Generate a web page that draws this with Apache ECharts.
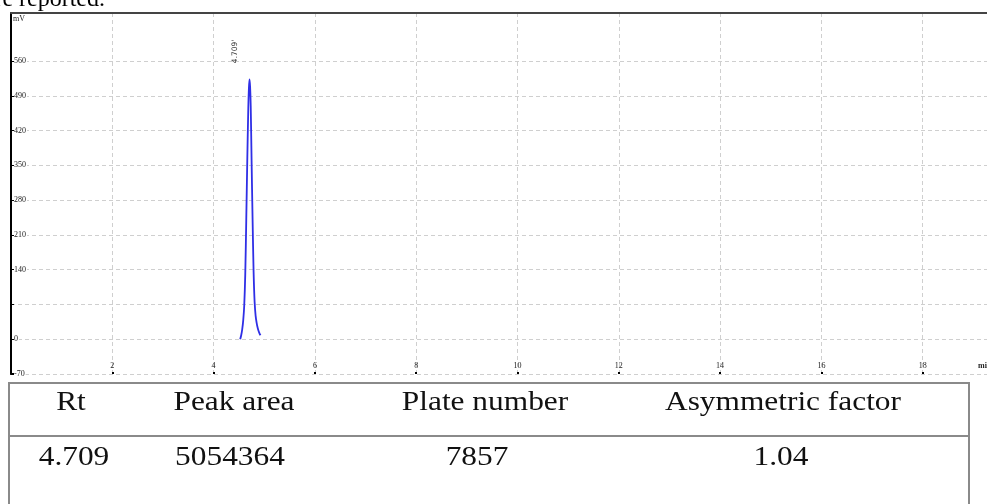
<!DOCTYPE html>
<html>
<head>
<meta charset="utf-8">
<script src="https://cdn.jsdelivr.net/npm/echarts@6/dist/echarts.min.js"></script>
<style>
  html, body { margin: 0; padding: 0; background: #fff; }
  #chart { width: 987px; height: 504px; }
</style>
</head>
<body>
<div id="chart"></div>
<script>
// Chromatogram trace: retention time (min) and detector signal (mV)
const retentionTimes = [4.525, 4.545, 4.565, 4.585, 4.605, 4.625, 4.645, 4.665, 4.685, 4.697,
                        4.709, 4.721, 4.733, 4.750, 4.770, 4.790, 4.810, 4.830, 4.850, 4.870,
                        4.890, 4.910, 4.926];
const signalMv = [0, 8, 20, 38, 68, 130, 240, 360, 465, 505,
                  523, 508, 470, 360, 240, 135, 75, 47, 33, 23,
                  16, 11, 8];

// Peak annotation
const peakTime = 4.709;
const peakLabel = "4.709'";

// Axis ticks and labels
const yTickValues = [-70, 0, 70, 140, 210, 280, 350, 420, 490, 560];
const yLabelValues = [-70, 0, 140, 210, 280, 350, 420, 490, 560];
const xTickValues = [2, 4, 6, 8, 10, 12, 14, 16, 18];

// Summary table
const tableHeaders = ['Rt', 'Peak area', 'Plate number', 'Asymmetric factor'];
const tableValues = ['4.709', '5054364', '7857', '1.04'];

const seriesData = retentionTimes.map((t, i) => {
  const item = { value: [t, signalMv[i]] };
  if (t === peakTime) {
    // rotated label: offset is expressed in the label's own (rotated) frame
    item.label = {
      show: true,
      formatter: peakLabel,
      position: 'inside',
      rotate: 90,
      align: 'center',
      verticalAlign: 'middle',
      offset: [28, -14.5],
      fontFamily: 'DejaVu Sans',
      fontSize: 7.5,
      color: '#333'
    };
  }
  return item;
});

const gridColor = '#cfcfcf';
const serif = 'Liberation Serif';
const headerX = [71, 234, 485, 783];
const valueX = [74, 230, 477, 781];

const graphics = [
  // sentence fragment above the chart
  { type: 'text', x: 105, y: 12,
    style: { text: 'are reported.', font: '24px "Liberation Serif"', fill: '#000', align: 'right', verticalAlign: 'bottom' } },
  // units
  { type: 'text', x: 13, y: 19,
    style: { text: 'mV', font: '8px "Liberation Serif"', fill: '#222', align: 'left', verticalAlign: 'middle' } },
  { type: 'text', x: 978, y: 366,
    style: { text: 'min', font: 'bold 8px "Liberation Serif"', fill: '#222', align: 'left', verticalAlign: 'middle' } },
  // foot of the signal axis
  { type: 'line', shape: { x1: 10.5, y1: 374, x2: 16, y2: 374 }, style: { stroke: '#000', lineWidth: 2 } },
  // table frame
  { type: 'rect', shape: { x: 9, y: 383, width: 960, height: 140 },
    style: { fill: 'none', stroke: '#8a8a8a', lineWidth: 2 } },
  { type: 'line', shape: { x1: 9, y1: 436, x2: 969, y2: 436 }, style: { stroke: '#8a8a8a', lineWidth: 2 } }
];
tableHeaders.forEach((h, i) => {
  graphics.push({ type: 'text', x: headerX[i], y: 403, scaleX: 1.12,
    style: { text: h, font: '28px "Liberation Serif"', fill: '#111', align: 'center', verticalAlign: 'middle' } });
});
tableValues.forEach((v, i) => {
  graphics.push({ type: 'text', x: valueX[i], y: 458, scaleX: 1.12,
    style: { text: v, font: '28px "Liberation Serif"', fill: '#111', align: 'center', verticalAlign: 'middle' } });
});

const chart = echarts.init(document.getElementById('chart'), null, { renderer: 'canvas' });
chart.setOption({
  animation: false,
  backgroundColor: '#fff',
  grid: { left: 11, right: 0, top: 13, bottom: 130, containLabel: false },
  xAxis: [{
    type: 'value',
    min: 0,
    max: 19.27,
    interval: 2,
    axisLine: { show: false, onZero: false },
    axisTick: { show: true, inside: true, length: 2, lineStyle: { color: '#000', width: 2 }, customValues: xTickValues },
    axisLabel: { inside: true, margin: 4, customValues: xTickValues, fontFamily: serif, fontSize: 8, color: '#222' },
    splitLine: { show: true, lineStyle: { color: gridColor, type: [4, 3], width: 1 } }
  }, {
    type: 'value',
    position: 'top',
    min: 0,
    max: 19.27,
    axisLine: { show: true, onZero: false, lineStyle: { color: '#444', width: 2 } },
    axisTick: { show: false },
    axisLabel: { show: false },
    splitLine: { show: false }
  }],
  yAxis: {
    type: 'value',
    min: -70,
    max: 656.6,
    interval: 70,
    axisLine: { show: true, onZero: false, lineStyle: { color: '#000', width: 2 } },
    axisTick: { show: true, inside: true, length: 3, customValues: yTickValues, lineStyle: { color: '#000', width: 1 } },
    axisLabel: {
      inside: true, margin: 3, customValues: yLabelValues,
      fontFamily: serif, fontSize: 8, color: '#222',
      backgroundColor: '#fff', padding: [0, 1, 0, 0], verticalAlign: 'middle'
    },
    splitLine: { show: true, lineStyle: { color: gridColor, type: [4, 3], width: 1 } }
  },
  series: [{
    type: 'line',
    xAxisIndex: 0,
    data: seriesData,
    smooth: 0.3,
    showSymbol: true,
    symbol: 'circle',
    symbolSize: 0,
    itemStyle: { color: '#2f2fe6' },
    lineStyle: { color: '#2f2fe6', width: 1.8 },
    clip: false
  }],
  graphic: graphics
});
</script>
</body>
</html>
